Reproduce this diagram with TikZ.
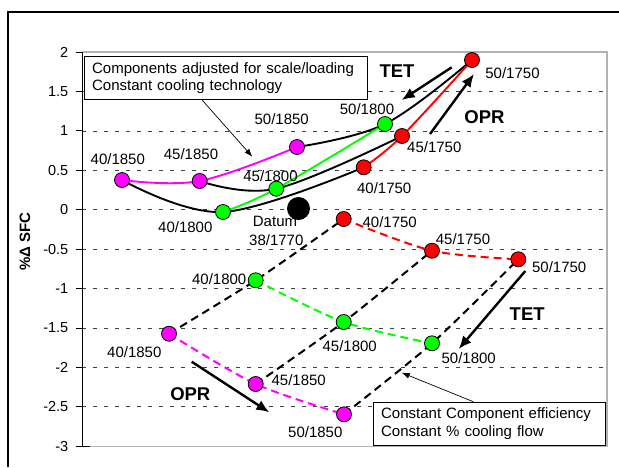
\documentclass[tikz,border=0pt]{standalone}
\usepackage{fontspec}
\setmainfont{Liberation Sans}
\usetikzlibrary{arrows.meta,backgrounds}
\definecolor{cmag}{RGB}{255,0,255}
\definecolor{cgrn}{RGB}{0,255,0}
\definecolor{cred}{RGB}{255,0,0}
\begin{document}
\begin{tikzpicture}[x=1pt,y=-1pt,
  dot/.style={circle,draw=black,line width=0.8pt,minimum size=15pt,inner sep=0pt},
  lbl/.style={font=\fontsize{15}{17}\selectfont,inner sep=0pt},
  big/.style={font=\fontsize{18.5}{20}\selectfont\bfseries,inner sep=0pt},
  ticklbl/.style={font=\fontsize{14.5}{17}\selectfont,inner sep=0pt,anchor=east},
  grid/.style={black!75,line width=0.8pt,dash pattern=on 4pt off 7pt},
  solidline/.style={line width=1.9pt},
  dashline/.style={line width=2pt,dash pattern=on 8pt off 5pt},
  bigarrow/.style={line width=2.4pt,-{Latex[length=13pt,width=11pt]}},
  thinarrow/.style={line width=0.7pt,-{Latex[length=8pt,width=6pt]}},
  legendbox/.style={draw=black,fill=white,line width=0.9pt,anchor=north west,align=left,
    inner xsep=8pt,inner ysep=0pt,font=\fontsize{15}{17.5}\selectfont}
]
\useasboundingbox (0,0) rectangle (619,467);
% outer frame
\draw[line width=1.1pt] (8,467) -- (8,12) -- (619,12);

% nodes: top group
\node[dot,fill=cmag] (t4018) at (122,180) {};
\node[dot,fill=cmag] (t4518) at (199.7,181) {};
\node[dot,fill=cmag] (t5018) at (297,147) {};
\node[dot,fill=cgrn] (t4080) at (223,212) {};
\node[dot,fill=cgrn] (t4580) at (276.3,188.7) {};
\node[dot,fill=cgrn] (t5080) at (385,124) {};
\node[dot,fill=cred] (t4075) at (363.7,167.3) {};
\node[dot,fill=cred] (t4575) at (402,136) {};
\node[dot,fill=cred] (t5075) at (472,60) {};
\node[circle,fill=black,minimum size=23pt,inner sep=0pt] (datum) at (298.5,208.5) {};
% nodes: bottom group
\node[dot,fill=cmag] (b4018) at (169,333.7) {};
\node[dot,fill=cmag] (b4518) at (255.7,384) {};
\node[dot,fill=cmag] (b5018) at (344,414.3) {};
\node[dot,fill=cgrn] (b4080) at (255.7,280.3) {};
\node[dot,fill=cgrn] (b4580) at (343.7,322) {};
\node[dot,fill=cgrn] (b5080) at (432,343.3) {};
\node[dot,fill=cred] (b4075) at (343.7,219) {};
\node[dot,fill=cred] (b4575) at (432,250.7) {};
\node[dot,fill=cred] (b5075) at (518.3,259.3) {};

\begin{pgfonlayer}{background}
  % plot area
  \foreach \v in {52,91.4,130.9,170.3,209.7,249.1,288.5,328,367.4,406.8}
    \draw[grid] (82,\v) -- (607,\v);
  \draw[black!30,line width=1.3pt] (82,446.3) -- (607,446.3) -- (607,52) -- (82,52);
  \draw[line width=1pt] (82,52) -- (82,446.3) -- (90,446.3);
  \foreach \v in {52,91.4,130.9,170.3,209.7,249.1,288.5,328,367.4,406.8,446.3}
    \draw[line width=1pt] (76,\v) -- (82,\v);
  % top group connectors
  \draw[solidline] plot[smooth,tension=0.6] coordinates {(t4018.center) (t4080.center) (t4075.center)};
  \draw[solidline] plot[smooth,tension=0.6] coordinates {(t4518.center) (t4580.center) (t4575.center)};
  \draw[solidline] plot[smooth,tension=0.6] coordinates {(t5018.center) (t5080.center) (t5075.center)};
  \draw[solidline,cmag] plot[smooth,tension=0.6] coordinates {(t4018.center) (t4518.center) (t5018.center)};
  \draw[solidline,cgrn] plot[smooth,tension=0.6] coordinates {(t4080.center) (t4580.center) (t5080.center)};
  \draw[solidline,cred] plot[smooth,tension=0.6] coordinates {(t4075.center) (t4575.center) (t5075.center)};
  % bottom group connectors
  \draw[dashline] plot[smooth,tension=0.4] coordinates {(b4018.center) (b4080.center) (b4075.center)};
  \draw[dashline] plot[smooth,tension=0.4] coordinates {(b4518.center) (b4580.center) (b4575.center)};
  \draw[dashline] plot[smooth,tension=0.4] coordinates {(b5018.center) (b5080.center) (b5075.center)};
  \draw[dashline,cmag] plot[smooth,tension=0.5] coordinates {(b4018.center) (b4518.center) (b5018.center)};
  \draw[dashline,cgrn] plot[smooth,tension=0.5] coordinates {(b4080.center) (b4580.center) (b5080.center)};
  \draw[dashline,cred] plot[smooth,tension=0.5] coordinates {(b4075.center) (b4575.center) (b5075.center)};
\end{pgfonlayer}

% tick labels
\foreach \v/\t in {52/2,91.4/1.5,130.9/1,170.3/0.5,209.7/0,249.1/-0.5,288.5/-1,328/-1.5,367.4/-2,406.8/-2.5,446.3/-3}
  \node[ticklbl] at (68.5,\v) {\t};
\node[rotate=90,font=\fontsize{15}{17}\selectfont\bfseries,inner sep=0pt] (ytitle) at (25,241.5) {\%Δ SFC};

% top labels
\node[lbl] (l1) at (117.8,159.3) {40/1850};
\node[lbl] (l2) at (191,154) {45/1850};
\node[lbl] (l3) at (281.7,119.3) {50/1850};
\node[lbl] (l4) at (270.5,175.7) {45/1800};
\node[lbl] (l5) at (185.3,227.3) {40/1800};
\node[lbl] (l6) at (275,221.3) {Datum};
\node[lbl] (l7) at (276.3,240) {38/1770};
\node[lbl] (l8) at (367,109) {50/1800};
\node[lbl] (l9) at (384.2,187.7) {40/1750};
\node[lbl] (l10) at (434.3,147.3) {45/1750};
\node[lbl] (l11) at (512.5,72.7) {50/1750};
\node[big] (tet1) at (397,71) {TET};
\node[big] (opr1) at (484.5,116.7) {OPR};
% bottom labels
\node[lbl] (m1) at (389.7,221.7) {40/1750};
\node[lbl] (m2) at (463,239) {45/1750};
\node[lbl] (m3) at (559.2,266.7) {50/1750};
\node[lbl] (m4) at (219.2,279.3) {40/1800};
\node[lbl] (m5) at (349.7,345.7) {45/1800};
\node[lbl] (m6) at (468.7,357.7) {50/1800};
\node[lbl] (m7) at (134.3,352.3) {40/1850};
\node[lbl] (m8) at (298.7,380.3) {45/1850};
\node[lbl] (m9) at (315.3,431.7) {50/1850};
\node[big] (tet2) at (527.2,314.3) {TET};
\node[big] (opr2) at (190.3,394.3) {OPR};

% legend boxes
\node[legendbox,minimum width=283.6pt,minimum height=43.6pt,text width=267.6pt] (box1) at (83.7,55.7)
  {Components adjusted for scale/loading\\Constant cooling technology};
\node[legendbox,minimum width=232.3pt,minimum height=43.3pt,text width=216.3pt,inner xsep=7.3pt] (box2) at (372.7,401.7)
  {Constant Component efficiency\\Constant \% cooling flow};

% arrows
\coordinate (a1s) at (451.7,67.3); \coordinate (a1e) at (401.7,100);
\coordinate (a2s) at (430,134);    \coordinate (a2e) at (474,74);
\coordinate (a3s) at (525.3,271);  \coordinate (a3e) at (458.7,349);
\coordinate (a4s) at (191.7,361.7); \coordinate (a4e) at (269.3,412.3);
\draw[bigarrow] (a1s) -- (a1e);
\draw[bigarrow] (a2s) -- (a2e);
\draw[bigarrow] (a3s) -- (a3e);
\draw[bigarrow] (a4s) -- (a4e);
\coordinate (p1e) at (252.3,156.7);
\coordinate (p2e) at (401.7,372.7);
\draw[thinarrow] (box1.south west) ++(118.6,0) coordinate (p1s) -- (p1e);
\draw[thinarrow] (box2.north west) ++(100.6,0) coordinate (p2s) -- (p2e);
\end{tikzpicture}
\end{document}
